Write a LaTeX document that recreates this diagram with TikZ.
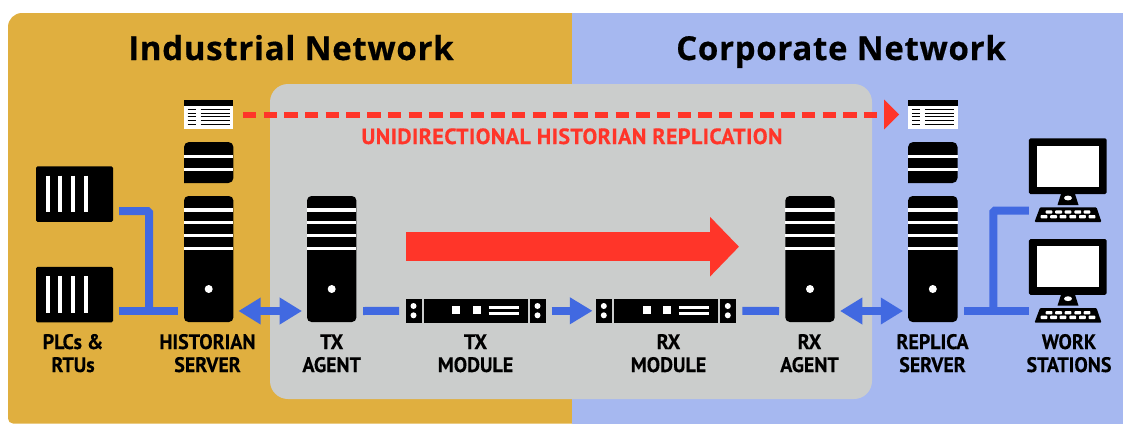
\documentclass[tikz,border=0pt]{standalone}
\usepackage{fontspec}
\usetikzlibrary{arrows.meta,calc}
\setmainfont{Open Sans}
\newfontfamily\titlefont[LetterSpace=2.1,BoldFeatures={FakeBold=0.5}]{Open Sans}
\newfontfamily\labelfont[FakeStretch=0.95,BoldFeatures={FakeBold=0.3}]{PT Sans}
\newfontfamily\redfont[LetterSpace=2,BoldFeatures={FakeBold=0.5}]{PT Sans}
\definecolor{orangebg}{HTML}{E0AF3F}
\definecolor{bluebg}{HTML}{A6B8F0}
\definecolor{greybg}{HTML}{CBCDCC}
\definecolor{linkblue}{HTML}{4169E1}
\definecolor{redline}{HTML}{FF3529}
\tikzset{
  x=1pt,y=-1pt,
  icon/.style={fill=black,inner sep=0pt,outer sep=0pt,rectangle},
  towerbox/.style={icon,minimum width=49.4pt,minimum height=126pt,rounded corners=4.5pt},
  plcbox/.style={icon,minimum width=77pt,minimum height=55.5pt,rounded corners=1.5pt},
  docbox/.style={fill=white,inner sep=0pt,outer sep=0pt,minimum width=49.4pt,minimum height=29pt},
  rackend/.style={icon,minimum width=15.7pt,minimum height=23.7pt},
  rackbody/.style={icon,minimum width=104.4pt,minimum height=23.7pt},
  monitorbox/.style={icon,minimum width=77.7pt,minimum height=55.7pt,rounded corners=1.5pt},
  wire/.style={draw=linkblue,line width=8pt},
  dbl/.style={draw=linkblue,line width=8pt,{Triangle[length=22.3pt,width=25.4pt]}-{Triangle[length=22.3pt,width=25.4pt]}},
  sgl/.style={draw=linkblue,line width=8pt,-{Triangle[length=22.7pt,width=25.4pt]}},
  stripe/.style={draw=white,line width=3.4pt},
  thinstripe/.style={draw=black,line width=1pt},
  lbl/.style={font=\labelfont\bfseries\fontsize{21}{23}\selectfont,align=center,inner sep=0pt,text=black},
  ttl/.style={font=\titlefont\bfseries\fontsize{33}{36}\selectfont,inner sep=0pt,text=black},
}
% tower server: #1 name, #2 centre x
\newcommand\towericon[2]{%
  \node[towerbox] (#1) at (#2,259) {};
  \foreach \yy in {210,222.7,235.7,248.7}{\draw[stripe] (#2-24.7,\yy) -- (#2+24.7,\yy);}
  \fill[white] (#2,289) circle[radius=4pt];
}
% upper tower piece
\newcommand\uppericon[1]{%
  \fill[black,rounded corners=5pt] (#1-24.7,183) -- (#1-24.7,142) -- (#1+24.7,142) -- (#1+24.7,183) [sharp corners] -- cycle;
  \foreach \yy in {156.7,169.3}{\draw[stripe] (#1-24.7,\yy) -- (#1+24.7,\yy);}
}
% document: #1 name, #2 centre x
\newcommand\docicon[2]{%
  \node[docbox] (#1) at (#2,114.5) {};
  \fill[black] (#2-24.7,100) rectangle (#2+24.7,105.8);
  \foreach \yy in {109.5,113,116.5,120,124}{
    \draw[thinstripe] (#2-21,\yy) -- (#2-13,\yy);
    \draw[thinstripe] (#2-8,\yy) -- (#2+21,\yy);
  }
}
% PLC: #1 name, #2 centre y
\newcommand\plcicon[2]{%
  \node[plcbox] (#1) at (74.5,#2) {};
  \foreach \xx in {47.7,60.3,73,86}{\draw[draw=white,line width=3.8pt] (\xx,#2-18.3) -- (\xx,#2+18.3);}
}
% rack module: #1 name, #2 left x
\newcommand\rackicon[2]{%
  \node[rackbody] (#1) at (#2+69.7,310.8) {};
  \node[rackend] (#1l) at (#2+7.7,310.8) {};
  \node[rackend] (#1r) at (#2+131.7,310.8) {};
  \fill[white] (#2+7.5,306) circle[radius=3pt] (#2+7.5,315.3) circle[radius=3pt]
               (#2+131.5,306) circle[radius=3pt] (#2+131.5,315.3) circle[radius=3pt];
  \fill[white] (#2+46.3,306) rectangle (#2+54.3,314);
  \fill[white] (#2+67,306) rectangle (#2+75,314);
  \draw[draw=white,line width=2.4pt] (#2+82.5,307.4) -- (#2+113,307.4) (#2+82.5,313.4) -- (#2+113,313.4);
}
% workstation: #1 name, #2 y offset
\newcommand\wsicon[2]{%
  \node[monitorbox] (#1) at (1067.8,166.2+#2) {};
  \fill[white] (1036.7,145.7+#2) rectangle (1099.3,186.7+#2);
  \fill[black] (1061,194+#2) -- (1075,194+#2) -- (1078.5,205+#2) -- (1057.5,205+#2) -- cycle;
  \fill[white] (1068,198+#2) ellipse[x radius=4pt,y radius=2.4pt];
  \fill[black,rounded corners=1pt] (1040,207.3+#2) -- (1096.5,207.3+#2) -- (1101.5,222+#2) -- (1034.5,222+#2) -- cycle;
  \foreach \xx in {1049,1058.6,1068,1077.8,1087}{\fill[white,rounded corners=.8pt] (\xx-3.4,210.4+#2) rectangle (\xx+3.4,213.6+#2);}
  \foreach \xx in {1044,1053.6,1063,1072.8,1082.4,1092}{\fill[white,rounded corners=.8pt] (\xx-3.4,215+#2) rectangle (\xx+3.4,218.4+#2);}
}
\begin{document}
\begin{tikzpicture}
\useasboundingbox (0,0) rectangle (1123,424);
% panels
\fill[orangebg] (600,13) [rounded corners=14pt] -- (8,13) [rounded corners=5pt] -- (8,423.5) [sharp corners] -- (600,423.5) -- cycle;
\fill[bluebg] (572,13) rectangle (1123,424);
\fill[greybg,rounded corners=18pt] (270,84) rectangle (872,399);
% titles
\node[ttl,anchor=base] (titleA) at (291,60) {Industrial Network};
\node[ttl,anchor=base] (titleB) at (841,60) {Corporate Network};
% icons
\plcicon{plcA}{194}
\plcicon{plcB}{294.5}
\uppericon{208.7}
\towericon{hist}{208.7}
\towericon{txa}{331.7}
\towericon{rxa}{810}
\uppericon{932.8}
\towericon{repl}{932.8}
\docicon{docA}{208.7}
\docicon{docB}{932.8}
\rackicon{txm}{406}
\rackicon{rxm}{596.3}
\wsicon{wsA}{0}
\wsicon{wsB}{100.7}
% replication
\draw[draw=redline,line width=6pt,dash pattern=on 13.4pt off 7.3pt,-{Triangle[length=15pt,width=29pt]},shorten <=9.5pt,shorten >=9pt] (docA) -- (docB);
\node[font=\redfont\bfseries\fontsize{22}{24}\selectfont,text=redline,inner sep=0pt,anchor=base] (repl label) at (572,144) {UNIDIRECTIONAL HISTORIAN REPLICATION};
\coordinate (bigS) at (406,246.7);
\coordinate (bigE) at (739,246.7);
\draw[draw=redline,line width=29pt,-{Triangle[length=29pt,width=58pt]}] (bigS) -- (bigE);
% links
\coordinate (j1) at (149,311);
\coordinate (j2) at (993.3,311);
\draw[wire,rounded corners=1.5pt] ([xshift=6pt,yshift=-17pt]plcA.east) -| (j1);
\draw[wire] ([xshift=6pt,yshift=-16.5pt]plcB.east) -- ([xshift=-6pt,yshift=-52pt]hist.west);
\draw[wire,rounded corners=1.5pt] ([yshift=-44.5pt]wsA.west) -| (j2);
\draw[wire] ([xshift=6.5pt,yshift=-52pt]repl.east) -- ([yshift=-44.1pt]wsB.west);
\draw[dbl,shorten <=5pt,shorten >=5pt] ([yshift=-52pt]hist.east) -- ([yshift=-52pt]txa.west);
\draw[wire] ([xshift=6.7pt,yshift=-52pt]txa.east) -- ([xshift=-6.7pt]txml.west);
\draw[sgl] ([xshift=6pt]txmr.east) -- ([xshift=-3.6pt]rxml.west);
\draw[wire] ([xshift=6.6pt]rxmr.east) -- ([xshift=-6.3pt,yshift=-52pt]rxa.west);
\draw[dbl,shorten <=5.3pt,shorten >=5pt] ([yshift=-52pt]rxa.east) -- ([yshift=-52pt]repl.west);
% labels
\node[lbl,anchor=base] (l1) at (73,372) {PLCs \&\\RTUs};
\node[lbl,anchor=base] (l2) at (207.5,372) {HISTORIAN\\SERVER};
\node[lbl,anchor=base] (l3) at (331.7,372) {TX\\AGENT};
\node[lbl,anchor=base] (l4) at (475.5,372) {TX\\MODULE};
\node[lbl,anchor=base] (l5) at (668.5,372) {RX\\MODULE};
\node[lbl,anchor=base] (l6) at (809.5,372) {RX\\AGENT};
\node[lbl,anchor=base] (l7) at (932.5,372) {REPLICA\\SERVER};
\node[lbl,anchor=base] (l8) at (1069,372) {WORK\\STATIONS};
\end{tikzpicture}
\end{document}
